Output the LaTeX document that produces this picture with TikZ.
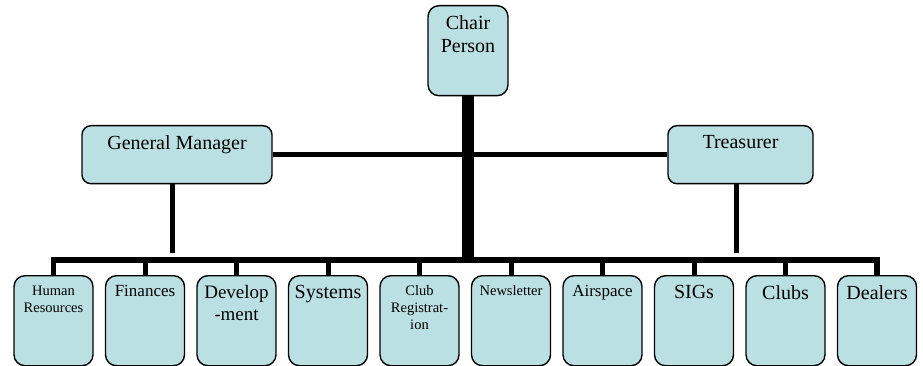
\documentclass[tikz,border=0pt]{standalone}
\usepackage{fontspec}
\setmainfont{Liberation Serif}
\definecolor{boxblue}{RGB}{187,224,227}
% box text: width, height, font size, line skip, text (top aligned)
\newcommand{\boxtext}[5]{\parbox[c][#2][t]{#1}{\centering\fontsize{#3}{#4}\selectfont\vspace*{10pt}#5}}
\tikzset{
  orgbox/.style={draw, line width=1.4pt, rounded corners=11pt, fill=boxblue, inner sep=0pt, anchor=north},
  link/.style={line width=5pt}
}

\begin{document}
\begin{tikzpicture}[x=1pt, y=-1pt]
\useasboundingbox (0,0) rectangle (923,366);

% chair
\node[orgbox] (chair) at (468,5) {\boxtext{80pt}{90pt}{20}{23}{Chair\\Person}};

% second level
\node[orgbox, rounded corners=9pt] (gm) at (177,125) {\boxtext{190pt}{58pt}{20}{23}{General Manager}};
\node[orgbox, rounded corners=9pt] (tres) at (740.5,125) {\boxtext{145pt}{58pt}{20}{23}{Treasurer}};

% departments
\foreach \i/\fsz/\lsk/\txt in {1/14.5/17/{Human\\Resources}, 2/17/19.5/Finances, 3/19/21.5/{Develop\\-ment},
    4/20/23/Systems, 5/14.5/17/{Club\\Registrat-\\ion}, 6/14.5/17/Newsletter, 7/17/19.5/Airspace,
    8/20/23/SIGs, 9/20/23/Clubs, 10/20/23/Dealers}
  \node[orgbox] (d\i) at ({53.5+91.5*(\i-1)},275) {\boxtext{79pt}{90pt}{\fsz}{\lsk}{\txt}};

% bus
\coordinate (bus) at (0,260);
\draw[line width=5.5pt] (d1.north) -- (d1.north |- bus) -- (d10.north |- bus) -- (d10.north);
\foreach \i in {2,...,9}
  \draw[link] (d\i.north) -- (d\i.north |- bus);

% chair to bus
\draw[line width=12pt] (chair.south) -- (chair.south |- bus);

% manager and treasurer
\draw[link] (gm.east) -- (tres.west);
\coordinate (gmend) at (172.5,253);
\coordinate (tresend) at (736,253);
\draw[link] (gm.south -| gmend) -- (gmend);
\draw[link] (tres.south -| tresend) -- (tresend);
\end{tikzpicture}
\end{document}
